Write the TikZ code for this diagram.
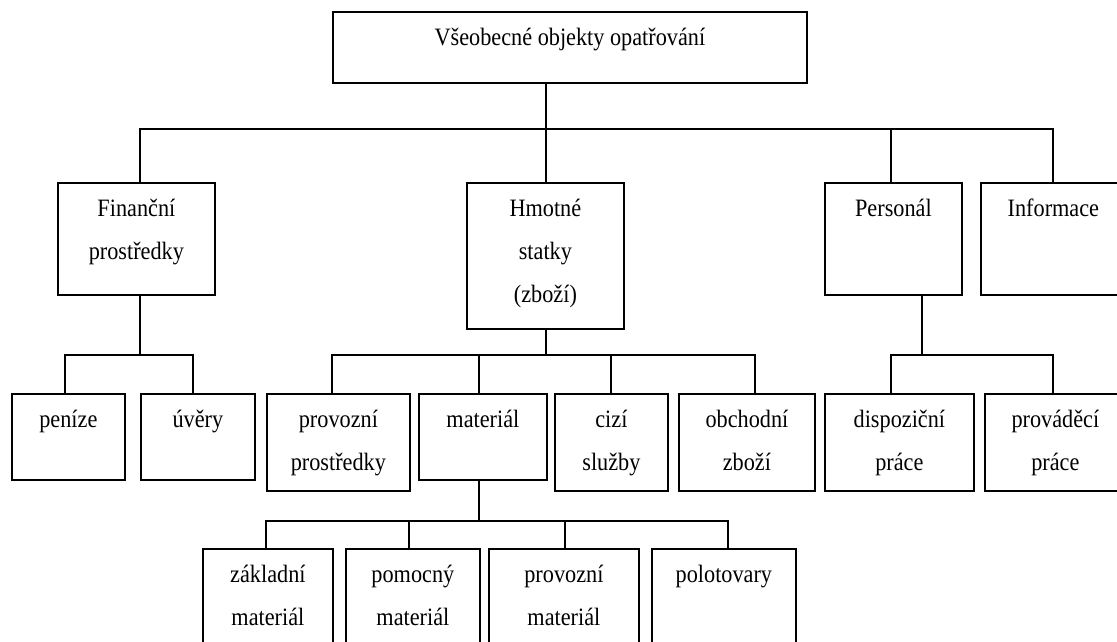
\documentclass[tikz,border=0pt]{standalone}
\usepackage{fontspec}
\setmainfont{Liberation Serif}
\usepackage{graphicx}

% box: name, x1, y1, x2, y2 (y grows downwards)
\newcommand\obox[5]{%
  \node[box, anchor=north west,
        minimum width={(#4-#2)*1pt}, minimum height={(#5-#3)*1pt}] (#1) at (#2,#3) {};}
% label: box name, lines separated by \\
\newcommand\olbl[2]{%
  \node[lbl] at ([yshift=-34pt]#1.north)
    {\scalebox{0.89}[1]{\begin{tabular}[t]{@{}c@{}}#2\end{tabular}}};}

\begin{document}
\begin{tikzpicture}[x=1pt,y=-1pt,
  box/.style={draw, line width=1.8pt, rectangle, inner sep=0pt},
  conn/.style={line width=1.5pt},
  lbl/.style={anchor=base, inner sep=0pt, font=\fontsize{25}{43}\selectfont}]
\useasboundingbox (0,0) rectangle (1117,641);
\clip (0,0) rectangle (1117,641);

% boxes
\obox{top}{332}{11}{806}{82}
\obox{fin}{57}{182}{214}{294}
\obox{hmot}{466}{182}{623}{328}
\obox{pers}{824}{182}{961}{294}
\obox{info}{980}{182}{1125}{294}
\obox{pen}{11}{393}{124}{479}
\obox{uver}{140}{393}{254}{479}
\obox{provp}{266}{393}{409}{490}
\obox{mat}{418}{393}{546}{479}
\obox{cizi}{554}{393}{667}{490}
\obox{obch}{678}{393}{814}{490}
\obox{disp}{824}{393}{973}{490}
\obox{provd}{984}{393}{1125}{490}
\obox{zakl}{202}{548}{332}{660}
\obox{pomoc}{345}{548}{479}{660}
\obox{provm}{488}{548}{638}{660}
\obox{polot}{651}{548}{795}{660}

% labels
\olbl{top}{Všeobecné objekty opatřování}
\olbl{fin}{Finanční\\prostředky}
\olbl{hmot}{Hmotné\\statky\\(zboží)}
\olbl{pers}{Personál}
\olbl{info}{Informace}
\olbl{pen}{peníze}
\olbl{uver}{úvěry}
\olbl{provp}{provozní\\prostředky}
\olbl{mat}{materiál}
\olbl{cizi}{cizí\\služby}
\olbl{obch}{obchodní\\zboží}
\olbl{disp}{dispoziční\\práce}
\olbl{provd}{prováděcí\\práce}
\olbl{zakl}{základní\\materiál}
\olbl{pomoc}{pomocný\\materiál}
\olbl{provm}{provozní\\materiál}
\olbl{polot}{polotovary}

% first level
\coordinate (r0) at (546,129);
\coordinate (r0a) at (140,129);
\coordinate (r0b) at (891,129);
\coordinate (r0c) at (1053,129);
\draw[conn] (top.south -| r0) -- (r0);
\draw[conn] (r0a |- fin.north) -- (r0a) -- (r0c) -- (r0c |- info.north);
\draw[conn] (r0) -- (r0 |- hmot.north);
\draw[conn] (r0b) -- (r0b |- pers.north);

% financial means
\coordinate (r1) at (140,355);
\coordinate (r1a) at (65,355);
\coordinate (r1b) at (193,355);
\draw[conn] (fin.south -| r1) -- (r1);
\draw[conn] (r1a |- pen.north) -- (r1a) -- (r1b) -- (r1b |- uver.north);

% tangible goods
\coordinate (r2) at (546,355);
\coordinate (r2a) at (332,355);
\coordinate (r2b) at (479,355);
\coordinate (r2c) at (611,355);
\coordinate (r2d) at (755,355);
\draw[conn] (hmot.south -| r2) -- (r2);
\draw[conn] (r2a |- provp.north) -- (r2a) -- (r2d) -- (r2d |- obch.north);
\draw[conn] (r2b) -- (r2b |- mat.north);
\draw[conn] (r2c) -- (r2c |- cizi.north);

% personnel
\coordinate (r3) at (922,355);
\coordinate (r3a) at (891,355);
\coordinate (r3b) at (1053,355);
\draw[conn] (pers.south -| r3) -- (r3);
\draw[conn] (r3a |- disp.north) -- (r3a) -- (r3b) -- (r3b |- provd.north);

% material
\coordinate (r4) at (479,521);
\coordinate (r4a) at (266,521);
\coordinate (r4b) at (409,521);
\coordinate (r4c) at (565,521);
\coordinate (r4d) at (728,521);
\draw[conn] (mat.south -| r4) -- (r4);
\draw[conn] (r4a |- zakl.north) -- (r4a) -- (r4d) -- (r4d |- polot.north);
\draw[conn] (r4b) -- (r4b |- pomoc.north);
\draw[conn] (r4c) -- (r4c |- provm.north);
\end{tikzpicture}
\end{document}
